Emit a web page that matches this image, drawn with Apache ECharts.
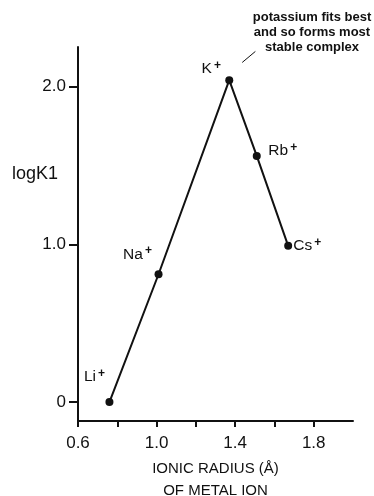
<!DOCTYPE html>
<html>
<head>
<meta charset="utf-8">
<script src="https://cdn.jsdelivr.net/npm/echarts@6/dist/echarts.min.js"></script>
<style>
html,body{margin:0;padding:0;background:#fff;}
#c{width:374px;height:496px;}
</style>
</head>
<body>
<div id="c"></div>
<script>
var ions = ['Li', 'Na', 'K', 'Rb', 'Cs'];
var ionicRadius = [0.76, 1.01, 1.37, 1.51, 1.67];
var logK1 = [0, 0.81, 2.04, 1.56, 0.99];
var xTickValues = [0.6, 0.8, 1.0, 1.2, 1.4, 1.6, 1.8];
var xLabelValues = [0.6, 1.0, 1.4, 1.8];
var yLabelValues = [0, 1, 2];
var annotationLines = ['potassium fits best', 'and so forms most', 'stable complex'];
var leader = [[1.436, 2.152], [1.503, 2.222]];

var labelOffsets = [[-15, -25], [-21, -20], [-18, -11], [26, -5], [19, 0]];
var FONT = 'Liberation Sans, Arial, Helvetica, sans-serif';
var INK = '#111';

var data = ions.map(function (n, i) {
  return {
    name: n,
    value: [ionicRadius[i], logK1[i]],
    label: { offset: labelOffsets[i] }
  };
});

var chart = echarts.init(document.getElementById('c'));
chart.setOption({
  backgroundColor: '#fff',
  animation: false,
  grid: { left: 78, right: 21, top: 47, bottom: 75, containLabel: false, outerBoundsMode: 'none' },
  xAxis: {
    type: 'value', min: 0.6, max: 2.0,
    splitLine: { show: false },
    axisLine: { show: true, onZero: false, lineStyle: { color: INK, width: 2 } },
    axisTick: { show: true, length: 6, customValues: xTickValues, lineStyle: { color: INK, width: 2 } },
    axisLabel: {
      customValues: xLabelValues, margin: 14, color: INK, fontSize: 17, fontFamily: FONT,
      formatter: function (v) { return v.toFixed(1); }
    },
    name: 'IONIC RADIUS (Å)\nOF METAL ION',
    nameLocation: 'middle', nameGap: 37,
    nameTextStyle: { color: INK, fontSize: 15, fontFamily: FONT, lineHeight: 22 }
  },
  yAxis: {
    type: 'value', min: -0.12, max: 2.25,
    splitLine: { show: false },
    axisLine: { show: true, onZero: false, lineStyle: { color: INK, width: 2 } },
    axisTick: { show: true, length: 9, customValues: yLabelValues, lineStyle: { color: INK, width: 2 } },
    axisLabel: {
      customValues: yLabelValues, margin: 12, color: INK, fontSize: 17, fontFamily: FONT,
      formatter: function (v) { return v === 0 ? '0' : v.toFixed(1); }
    }
  },
  graphic: [
    {
      type: 'text', left: 12, top: 165,
      style: { text: 'logK1', fill: INK, font: '18px ' + FONT }
    },
    {
      type: 'text', x: 312, y: 10,
      style: {
        text: annotationLines.join('\n'), fill: INK, align: 'center',
        font: 'bold 13px ' + FONT, lineHeight: 15
      }
    }
  ],
  series: [{
    type: 'line',
    data: data,
    symbol: 'circle', symbolSize: 8,
    itemStyle: { color: INK },
    lineStyle: { color: INK, width: 2 },
    label: {
      show: true, position: 'inside',
      formatter: function (p) { return '{b|' + p.name + '}{s|+}'; },
      rich: {
        b: { fontSize: 15.5, fontFamily: FONT, color: INK, lineHeight: 19 },
        s: { fontSize: 12, fontWeight: 'bold', fontFamily: FONT, color: INK, verticalAlign: 'top', lineHeight: 11, padding: [0, 0, 0, 2] }
      }
    },
    markLine: {
      silent: true, symbol: 'none',
      label: { show: false },
      lineStyle: { color: INK, width: 1, type: 'solid' },
      data: [[{ coord: leader[0] }, { coord: leader[1] }]]
    }
  }]
});
</script>
</body>
</html>
